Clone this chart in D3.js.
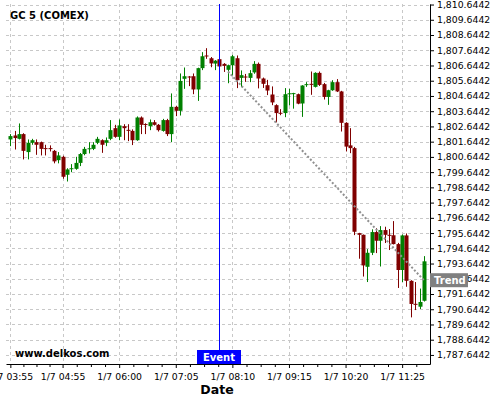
<!DOCTYPE html>
<html lang="en">
<head>
<meta charset="UTF-8">
<script src="https://d3js.org/d3.v7.min.js"></script>
<style>
  body { margin: 0; background: #fff; }
  text { font-family: "DejaVu Sans", sans-serif; }
</style>
</head>
<body>
<script>
// 5 minute candles, 1/7 03:55 .. 11:50
const opens = [1801.79,1802.05,1801.83,1802.14,1800.96,1801.57,1801.61,1801.61,1801.22,1801.22,
  1801.04,1800.43,1800.65,1799.47,1799.86,1799.86,1800.25,1800.83,1801.17,1801.17,
  1801.57,1801.74,1801.57,1801.83,1802.53,1801.96,1802.66,1802.42,1802.35,1801.74,
  1803.23,1802.80,1802.66,1802.92,1802.75,1802.35,1803.06,1802.14,1803.93,1803.67,
  1805.77,1805.92,1805.94,1805.07,1806.47,1807.30,1807.12,1806.77,1807.06,1806.75,
  1806.36,1806.66,1807.12,1805.83,1805.92,1805.83,1806.19,1806.75,1805.79,1805.35,
  1804.74,1804.04,1803.54,1803.52,1804.78,1804.80,1804.76,1804.15,1805.38,1805.44,
  1805.24,1806.16,1805.42,1804.58,1805.02,1805.55,1804.94,1802.88,1801.40,1801.22,
  1795.64,1795.53,1793.43,1794.35,1795.71,1795.14,1795.84,1795.53,1795.50,1794.92,
  1793.22,1795.49,1792.51,1791.00,1790.81,1791.20];
const highs = [1802.14,1802.35,1802.84,1802.20,1801.79,1801.83,1801.79,1801.65,1801.44,1801.40,
  1801.10,1800.96,1800.72,1799.90,1800.17,1800.65,1800.90,1801.30,1801.61,1801.61,
  1801.96,1801.80,1801.92,1803.06,1802.75,1803.10,1802.79,1802.79,1802.45,1803.30,
  1803.30,1802.85,1803.10,1803.06,1802.80,1803.14,1803.14,1804.81,1804.00,1806.12,
  1806.51,1805.95,1806.12,1806.50,1807.52,1807.78,1807.20,1807.00,1807.25,1806.80,
  1806.70,1807.34,1807.30,1806.32,1806.09,1806.34,1806.93,1806.84,1805.85,1805.70,
  1805.27,1804.10,1803.78,1805.16,1805.11,1804.85,1804.80,1805.35,1805.55,1806.25,
  1806.20,1806.25,1805.50,1805.05,1805.68,1805.75,1804.98,1802.92,1802.53,1801.30,
  1795.66,1795.55,1794.59,1795.89,1795.97,1796.10,1796.06,1795.91,1796.43,1795.00,
  1795.55,1795.62,1792.55,1792.43,1792.00,1794.13];
const lows = [1801.35,1801.13,1801.79,1800.48,1800.48,1801.44,1800.78,1800.74,1800.74,1801.00,
  1800.22,1800.22,1799.21,1799.03,1799.64,1799.80,1800.04,1800.75,1800.87,1801.09,
  1801.48,1800.91,1801.35,1801.74,1801.90,1801.74,1801.74,1801.68,1801.42,1801.70,
  1802.14,1802.14,1802.40,1802.70,1802.31,1802.30,1802.01,1801.61,1803.32,1803.36,
  1805.11,1805.29,1804.76,1804.32,1806.34,1807.08,1806.53,1806.34,1806.50,1806.22,
  1805.48,1805.99,1805.16,1805.22,1805.57,1805.55,1806.10,1805.14,1805.17,1804.70,
  1804.04,1802.91,1803.38,1803.25,1804.02,1803.81,1804.10,1803.27,1805.24,1804.72,
  1805.20,1805.30,1804.41,1804.06,1804.98,1804.90,1802.31,1801.00,1800.89,1795.51,
  1793.96,1792.79,1792.43,1794.20,1794.33,1793.45,1794.99,1794.53,1794.90,1792.04,
  1792.43,1792.12,1790.11,1790.59,1790.66,1791.15];
const closes = [1802.01,1801.88,1802.14,1801.04,1801.57,1801.74,1801.44,1801.17,1801.19,1801.18,
  1800.35,1800.74,1799.34,1799.82,1799.90,1800.25,1800.83,1801.17,1801.21,1801.44,
  1801.83,1801.44,1801.74,1802.40,1801.96,1802.71,1802.53,1802.38,1801.74,1803.23,
  1802.75,1802.76,1802.92,1802.75,1802.40,1803.06,1802.14,1803.93,1803.67,1805.63,
  1805.94,1805.88,1805.07,1806.47,1807.25,1807.26,1806.78,1806.96,1806.58,1806.62,
  1806.66,1807.25,1805.68,1806.01,1805.88,1806.14,1806.75,1805.79,1805.44,1805.00,
  1804.22,1803.52,1803.50,1804.76,1804.82,1804.83,1804.14,1805.33,1805.42,1805.40,
  1806.16,1805.37,1804.58,1805.02,1805.55,1804.94,1802.88,1801.32,1801.22,1795.73,
  1795.53,1793.52,1794.35,1795.71,1795.14,1795.84,1795.53,1795.50,1794.92,1793.22,
  1795.49,1792.51,1790.99,1790.96,1791.12,1793.79];

const yTickValues = d3.range(0, 24).map(k => 1787.6442 + k);
const xTickTimes = ["03:55","04:55","06:00","07:05","08:10","09:15","10:20","11:25"];

const eventIndex = 48;
const trendStart = { index: 50, value: 1806.25 };
const trendEnd = { index: 95, value: 1792.55 };

const at = hm => { const [h, m] = hm.split(":").map(Number); return new Date(2021, 6, 1, h, m); };
const times = d3.timeMinute.every(5).range(at("03:55"), at("11:55"));
const candles = times.map((t, i) => ({ t, o: opens[i], h: highs[i], l: lows[i], c: closes[i] }));

const W = 500, H = 400;
const svg = d3.select("body").append("svg").attr("width", W).attr("height", H);

const x = d3.scaleTime().domain([at("03:50"), at("11:57")]).range([6, 430]);
const y = d3.scaleLinear().domain([1787.05, 1810.68]).range([364, 4]);

const majors = xTickTimes.map(at);
// quarter steps between major ticks
let minors = [];
for (let i = 0; i < majors.length; i++) {
  const a = majors[i];
  const b = i < majors.length - 1 ? majors[i + 1] : new Date(+a + 65 * 60000);
  for (let q = 1; q < 4; q++) minors.push(new Date(+a + (b - a) * q / 4));
}
minors = minors.filter(d => x(d) <= 430);

// grid
svg.append("g").selectAll("line").data(yTickValues).join("line")
  .attr("x1", 6).attr("x2", 430)
  .attr("y1", d => Math.round(y(d)) + 0.5).attr("y2", d => Math.round(y(d)) + 0.5)
  .attr("stroke", "#c8c8c8").attr("stroke-dasharray", "3,3");
svg.append("g").selectAll("line").data(majors).join("line")
  .attr("x1", d => Math.round(x(d)) + 0.5).attr("x2", d => Math.round(x(d)) + 0.5)
  .attr("y1", 4).attr("y2", 364)
  .attr("stroke", "#c8c8c8").attr("stroke-dasharray", "3,3");

// candles
const up = "#008000", down = "#800000";
const g = svg.append("g");
g.selectAll(".wick").data(candles).join("line")
  .attr("x1", d => Math.round(x(d.t)) + 0.5).attr("x2", d => Math.round(x(d.t)) + 0.5)
  .attr("y1", d => y(d.h)).attr("y2", d => y(d.l))
  .attr("stroke", d => d.c >= d.o ? up : down);
g.selectAll(".body").data(candles).join("rect")
  .attr("x", d => Math.round(x(d.t)) - 1.5)
  .attr("width", 4)
  .attr("y", d => y(Math.max(d.o, d.c)))
  .attr("height", d => Math.max(1, y(Math.min(d.o, d.c)) - y(Math.max(d.o, d.c))))
  .attr("fill", d => d.c >= d.o ? up : down);

// trend
svg.append("path")
  .datum([trendStart, trendEnd])
  .attr("d", d3.line().x(d => x(times[d.index])).y(d => y(d.value)))
  .attr("stroke", "#909090").attr("stroke-width", 2).attr("stroke-dasharray", "2,2")
  .attr("fill", "none");

// event line
const ex = Math.round(x(times[eventIndex])) + 0.5;
svg.append("line").attr("x1", ex).attr("x2", ex).attr("y1", 4).attr("y2", 364)
  .attr("stroke", "#0000ff");

// axes
const fmt = d3.timeFormat("%-d/%-m %H:%M");
const xAxis = svg.append("g").attr("transform", "translate(0,364)")
  .call(d3.axisBottom(x).tickValues(majors).tickFormat(fmt).tickSize(4).tickPadding(5).tickSizeOuter(0));
svg.append("g").attr("transform", "translate(0,364)")
  .call(d3.axisBottom(x).tickValues(minors).tickFormat("").tickSize(3).tickSizeOuter(0))
  .select(".domain").remove();
const yAxis = svg.append("g").attr("transform", "translate(430,0)")
  .call(d3.axisRight(y).tickValues(yTickValues).tickFormat(d3.format(",.4f")).tickSize(4).tickPadding(3).tickSizeOuter(0));
[xAxis, yAxis].forEach(a => a.selectAll("text")
  .attr("font-family", "DejaVu Sans").attr("font-size", "9.3px").attr("fill", "#000"));

// labels
svg.append("text").attr("x", 10).attr("y", 19)
  .attr("font-size", "10px").attr("font-weight", "bold").text("GC 5 (COMEX)");
svg.append("text").attr("x", 15).attr("y", 357)
  .attr("font-size", "10px").attr("font-weight", "bold").text("www.delkos.com");
svg.append("text").attr("x", 217).attr("y", 394).attr("text-anchor", "middle")
  .attr("font-size", "12.5px").attr("font-weight", "bold").text("Date");

// event tag
svg.append("rect").attr("x", ex - 22.5).attr("y", 350).attr("width", 44).attr("height", 14)
  .attr("fill", "#0000ff");
svg.append("text").attr("x", ex - 0.5).attr("y", 361).attr("text-anchor", "middle")
  .attr("fill", "#fff").attr("font-size", "10px").attr("font-weight", "bold").text("Event");

// trend tag
const ty = y(trendEnd.value);
svg.append("rect").attr("x", 430).attr("y", ty - 7).attr("width", 38).attr("height", 14)
  .attr("fill", "#808080");
svg.append("text").attr("x", 434).attr("y", ty + 4)
  .attr("fill", "#fff").attr("font-size", "10px").attr("font-weight", "bold").text("Trend");
</script>
</body>
</html>
